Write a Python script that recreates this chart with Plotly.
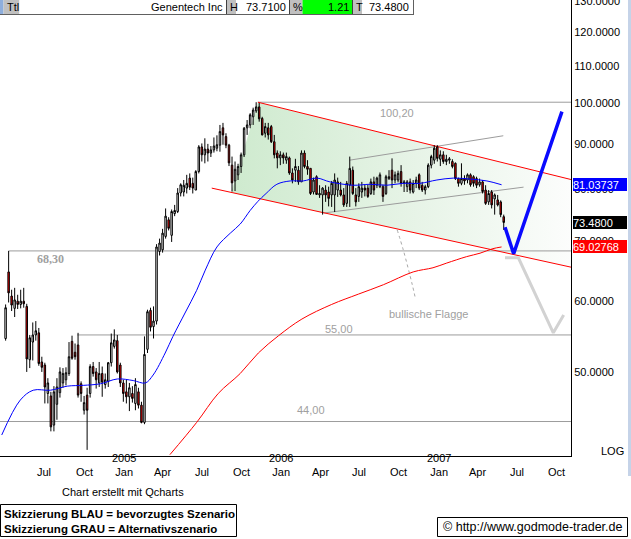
import math
import pandas as pd
import plotly.graph_objects as go

# ---------------- data ----------------
first_week = "2004-04-02"
opens = [54.5, 64.7, 60.8, 58.9, 60.0, 59.5, 60.0, 59.2, 51.6, 54.0,
         55.0, 55.3, 51.3, 50.9, 47.3, 47.0, 43.6, 46.0, 47.4, 48.6,
         49.0, 49.8, 54.1, 52.6, 53.6, 48.5, 45.3, 47.1, 47.3, 50.7,
         50.0, 48.6, 49.8, 48.4, 48.8, 51.2, 53.4, 54.2, 50.9, 48.6,
         47.5, 46.9, 47.3, 46.1, 47.5, 45.9, 43.9, 53.0, 58.6, 56.2,
         57.0, 68.2, 68.5, 70.9, 74.0, 71.1, 75.2, 75.6, 79.3, 79.5,
         80.3, 82.4, 81.3, 79.9, 83.8, 89.3, 87.5, 88.8, 87.9, 88.6,
         89.0, 89.7, 93.8, 91.7, 89.7, 85.2, 81.8, 83.1, 84.9, 87.5,
         93.8, 94.5, 96.5, 98.0, 99.0, 96.1, 92.5, 93.8, 94.1, 90.5,
         87.9, 86.8, 87.5, 86.3, 86.8, 83.5, 84.1, 84.1, 81.6, 87.9,
         84.9, 84.5, 79.5, 82.7, 78.9, 78.9, 79.9, 79.5, 78.9, 78.9,
         79.9, 79.9, 78.9, 77.2, 80.9, 84.1, 78.9, 78.6, 79.5, 80.3,
         80.3, 79.2, 81.6, 80.9, 80.6, 80.6, 79.2, 82.3, 84.1, 82.0,
         82.0, 83.8, 81.3, 80.6, 81.6, 79.5, 81.3, 83.1, 80.9, 79.9,
         80.6, 85.2, 86.3, 89.3, 86.5, 87.5, 86.0, 86.3, 86.0, 85.6,
         82.3, 81.3, 82.3, 82.0, 83.1, 82.7, 82.3, 81.0, 81.6, 79.9,
         77.5, 79.5, 78.1, 77.9, 77.5, 74.6]
highs = [59.5, 68.3, 61.8, 62.1, 61.0, 61.8, 62.1, 59.6, 55.0, 56.8,
         57.0, 56.0, 52.0, 51.2, 49.2, 47.5, 48.2, 49.2, 50.6, 50.5,
         50.6, 54.0, 54.9, 53.8, 55.3, 48.8, 47.0, 48.0, 51.0, 51.3,
         50.5, 51.3, 50.7, 49.8, 51.3, 55.2, 55.8, 55.0, 51.2, 49.0,
         49.0, 48.6, 48.2, 49.2, 48.0, 46.3, 54.8, 58.7, 59.0, 59.2,
         69.5, 70.5, 72.3, 76.2, 74.5, 76.0, 76.9, 80.3, 81.3, 82.0,
         83.1, 83.4, 82.5, 84.1, 89.7, 90.1, 91.3, 90.0, 89.5, 91.5,
         92.0, 94.5, 95.0, 92.5, 90.0, 87.1, 86.0, 85.5, 88.0, 94.0,
         95.7, 97.4, 98.8, 100.2, 100.0, 96.5, 95.0, 95.0, 94.5, 92.1,
         88.5, 88.3, 88.0, 88.0, 87.1, 84.5, 86.6, 85.0, 88.5, 88.5,
         86.3, 84.5, 82.5, 83.0, 80.9, 80.5, 80.9, 80.6, 81.8, 83.4,
         82.5, 81.6, 80.3, 81.8, 87.1, 84.9, 80.3, 81.3, 81.6, 81.0,
         81.0, 82.3, 82.7, 82.7, 83.6, 81.0, 83.1, 84.1, 86.7, 83.8,
         84.0, 85.2, 82.0, 82.0, 82.3, 82.0, 82.7, 83.4, 81.6, 81.0,
         85.6, 87.5, 89.7, 89.7, 88.5, 88.3, 87.5, 87.0, 86.5, 85.8,
         82.5, 85.6, 83.0, 83.4, 83.4, 83.0, 82.7, 82.3, 82.0, 80.9,
         79.9, 79.9, 79.2, 78.9, 77.8, 75.0]
lows = [54.2, 59.8, 58.5, 57.6, 58.8, 58.9, 59.0, 50.0, 50.5, 51.5,
        54.2, 50.8, 50.0, 46.1, 46.1, 42.9, 42.9, 44.2, 46.8, 48.0,
        48.3, 49.5, 51.6, 51.6, 46.8, 46.3, 44.8, 40.9, 46.8, 49.4,
        47.9, 48.1, 46.9, 47.9, 48.1, 50.7, 53.1, 49.8, 48.1, 46.3,
        46.1, 45.2, 46.2, 45.3, 45.5, 43.8, 43.7, 52.5, 55.5, 54.5,
        56.5, 67.5, 68.0, 70.5, 72.0, 69.9, 74.7, 75.3, 78.6, 78.6,
        79.2, 79.9, 79.2, 79.9, 83.4, 86.0, 85.6, 86.0, 87.0, 88.0,
        88.3, 88.2, 89.8, 89.0, 85.0, 79.6, 79.7, 82.0, 83.5, 87.0,
        92.1, 93.7, 94.5, 97.5, 95.3, 92.0, 91.5, 91.0, 90.2, 86.7,
        84.5, 85.2, 85.5, 85.5, 83.1, 81.3, 81.6, 81.0, 81.6, 84.5,
        83.1, 78.9, 79.0, 78.9, 78.3, 75.0, 77.5, 76.6, 76.5, 75.5,
        78.5, 78.6, 76.5, 76.5, 76.5, 78.9, 76.6, 77.5, 78.3, 78.6,
        78.3, 78.9, 78.9, 80.3, 80.3, 77.5, 78.9, 82.0, 80.3, 81.3,
        81.5, 80.6, 79.5, 79.5, 79.2, 79.2, 80.3, 79.9, 79.5, 79.0,
        80.3, 84.5, 85.5, 86.0, 85.0, 85.5, 85.2, 85.5, 84.5, 82.0,
        80.6, 80.9, 81.0, 81.3, 80.6, 80.6, 80.3, 80.6, 79.2, 76.9,
        76.9, 76.2, 75.0, 76.6, 74.5, 72.1]
closes = [59.0, 61.3, 59.4, 60.2, 59.5, 60.0, 59.6, 51.7, 54.6, 55.0,
          55.6, 51.1, 50.6, 48.1, 48.6, 43.4, 47.5, 48.1, 50.0, 49.8,
          49.9, 52.0, 51.8, 52.0, 47.1, 47.3, 46.2, 45.3, 50.7, 49.8,
          49.0, 49.8, 48.7, 49.0, 51.2, 53.9, 54.3, 50.0, 48.6, 47.3,
          46.9, 48.0, 46.7, 48.4, 45.9, 43.9, 52.3, 58.4, 56.1, 57.0,
          69.0, 69.7, 71.5, 74.7, 72.4, 75.6, 75.8, 79.3, 81.0, 80.9,
          81.3, 80.5, 80.3, 83.8, 89.3, 87.5, 88.8, 87.9, 88.6, 89.5,
          89.8, 92.9, 92.1, 89.7, 85.7, 81.4, 84.3, 84.9, 87.5, 93.7,
          94.5, 97.0, 98.2, 99.0, 96.0, 92.1, 94.1, 92.1, 90.5, 87.5,
          86.8, 87.5, 86.8, 87.1, 83.5, 82.0, 84.9, 81.6, 87.9, 84.9,
          84.3, 79.2, 82.0, 79.0, 79.2, 80.3, 78.9, 78.2, 81.3, 82.0,
          81.6, 78.9, 76.9, 81.3, 84.5, 79.2, 77.5, 80.6, 80.3, 79.9,
          78.6, 81.6, 79.9, 82.4, 83.1, 78.6, 82.7, 82.7, 82.0, 83.1,
          83.4, 81.3, 81.6, 81.6, 79.9, 81.3, 82.0, 80.3, 79.9, 80.6,
          85.2, 87.1, 89.0, 86.7, 87.5, 86.0, 86.5, 86.6, 84.9, 82.3,
          81.3, 82.3, 81.8, 83.1, 81.0, 81.3, 80.9, 81.6, 79.6, 77.2,
          79.2, 76.9, 78.9, 76.9, 75.0, 73.5]

ma_blue_dates = ["2004-03-24", "2004-05-06", "2004-06-05", "2004-07-15", "2004-08-23",
                 "2004-09-29", "2004-11-08", "2004-12-17", "2005-01-23", "2005-02-20",
                 "2005-03-10", "2005-04-07", "2005-04-25", "2005-05-23", "2005-06-19",
                 "2005-07-09", "2005-08-05", "2005-09-05", "2005-09-28", "2005-10-21",
                 "2005-11-08", "2005-11-27", "2005-12-22", "2006-01-22", "2006-02-21",
                 "2006-03-25", "2006-04-24", "2006-06-17", "2006-07-26", "2006-09-03",
                 "2006-10-11", "2006-11-19", "2006-12-28", "2007-02-04", "2007-03-15",
                 "2007-04-23", "2007-05-27"]
ma_blue_values = [42.5, 46.5, 47.7, 47.7, 48.2, 48.3, 48.5, 49.1, 48.9, 48.6,
                  49.6, 52.5, 54.8, 58.2, 61.7, 65.0, 69.0, 71.5, 73.2, 75.8,
                  77.6, 79.2, 81.1, 81.8, 81.8, 82.4, 81.6, 80.9, 81.1, 80.9,
                  81.3, 81.3, 82.0, 82.4, 82.2, 81.8, 81.0]

ma_red_dates = ["2005-04-18", "2005-06-19", "2005-08-08", "2005-09-28", "2005-11-09",
                "2005-12-26", "2006-02-18", "2006-04-28", "2006-06-29", "2006-08-26",
                "2006-11-03", "2006-12-19", "2007-01-20", "2007-03-07", "2007-04-07",
                "2007-05-07", "2007-05-27"]
ma_red_values = [40.4, 43.9, 47.3, 49.8, 52.5, 54.9, 57.3, 59.5, 61.1, 62.6,
                 64.7, 65.4, 66.2, 67.3, 67.9, 68.7, 69.0]

x_start, x_end = "2004-03-20", "2007-11-04"

channel_upper_dates = ["2005-11-08", "2007-11-04"]
channel_upper_values = [100.2, 82.1]
channel_lower_dates = ["2005-07-24", "2007-11-04"]
channel_lower_values = [80.3, 65.5]
channel_area_dates = ["2005-11-08", "2007-11-04", "2007-11-04", "2005-09-07", "2005-11-08"]
channel_area_values = [100.2, 82.1, 65.5, 79.4, 100.2]

flag_upper_dates = ["2006-06-09", "2007-05-31"]
flag_upper_values = [86.3, 91.9]
flag_lower_dates = ["2006-04-09", "2007-07-17"]
flag_lower_values = [75.3, 80.5]
flag_pointer_dates = ["2006-09-27", "2006-10-11", "2006-11-01", "2006-11-08"]
flag_pointer_values = [72.1, 68.5, 62.6, 60.5]

blue_path_dates = ["2007-06-04", "2007-06-24", "2007-10-14"]
blue_path_values = [72.6, 67.8, 97.8]
gray_path_dates = ["2007-06-04", "2007-07-05", "2007-09-24", "2007-10-18"]
gray_path_values = [67.1, 67.1, 55.3, 57.9]

hline_values = [100.2, 68.3, 55.0, 44.0]
hline_starts = ["2005-11-08", "2004-04-09", "2004-09-15", "2004-03-20"]
hline_labels = ["100,20", "68,30", "55,00", "44,00"]
hline_label_dates = ["2006-09-27", "2004-07-15", "2006-05-14", "2006-03-11"]
flag_label = "bullische Flagge"
flag_label_date, flag_label_value = "2006-12-10", 58.05

tick_dates = ["2004-07-01", "2004-10-01", "2005-01-01", "2005-04-01", "2005-07-01",
              "2005-10-01", "2006-01-01", "2006-04-01", "2006-07-01", "2006-10-01",
              "2007-01-01", "2007-04-01", "2007-07-01", "2007-10-01"]
tick_months = ["Jul", "Oct", "Jan", "Apr", "Jul", "Oct", "Jan", "Apr", "Jul", "Oct",
               "Jan", "Apr", "Jul", "Oct"]
tick_years = ["", "", "2005", "", "", "", "2006", "", "", "", "2007", "", "", ""]
y_ticks = [50, 60, 70, 80, 90, 100, 110, 120, 130]
y_min, y_max = 40.26, 130.4

ma_blue_last, last_price, ma_red_last = 81.03737, 73.48, 69.02768
header_name = "Genentech Inc"
header_high, header_pct, header_last = "73.7100", "1.21", "73.4800"

# ---------------- figure ----------------
dates = pd.date_range(first_week, periods=len(closes), freq="7D")

W, H = 631, 539
PW, PH = 571, 456
def px(x): return x / PW
def py(y): return 1 - y / PH
def ly(v): return math.log10(v)

FONT = "Arial, 'Liberation Sans', sans-serif"
GRAY = "#9c9c9c"
TOP = dict(xaxis="x2", yaxis="y2")

fig = go.Figure()

# base layer: gradient area and guide lines
fig.add_trace(go.Scatter(
    x=channel_area_dates, y=channel_area_values, mode="lines", fill="toself",
    line=dict(width=0, color="rgba(0,0,0,0)"),
    fillgradient=dict(type="horizontal",
                      colorscale=[[0, "rgb(206,234,206)"], [0.5, "rgb(229,243,229)"],
                                  [1, "rgb(252,253,252)"]]),
    hoverinfo="skip"))

for v, s in zip(hline_values, hline_starts):
    fig.add_trace(go.Scatter(x=[s, x_end], y=[v, v], mode="lines",
                             line=dict(color=GRAY, width=1), hoverinfo="skip"))

fig.add_trace(go.Scatter(x=flag_upper_dates, y=flag_upper_values, mode="lines",
                         line=dict(color=GRAY, width=1), hoverinfo="skip"))
fig.add_trace(go.Scatter(x=flag_lower_dates, y=flag_lower_values, mode="lines",
                         line=dict(color=GRAY, width=1), hoverinfo="skip"))
fig.add_trace(go.Scatter(x=flag_pointer_dates, y=flag_pointer_values, mode="lines",
                         line=dict(color="#a8a8a8", width=1, dash="3px,3px", shape="spline"),
                         hoverinfo="skip"))
fig.add_trace(go.Scatter(x=channel_upper_dates, y=channel_upper_values, mode="lines",
                         line=dict(color="#ff0000", width=1), hoverinfo="skip"))
fig.add_trace(go.Scatter(x=channel_lower_dates, y=channel_lower_values, mode="lines",
                         line=dict(color="#ff0000", width=1), hoverinfo="skip"))

# top layer: candles, averages, sketches
fig.add_trace(go.Candlestick(
    x=dates, open=opens, high=highs, low=lows, close=closes,
    increasing=dict(line=dict(color="black", width=1), fillcolor="white"),
    decreasing=dict(line=dict(color="black", width=1), fillcolor="#ff0000"),
    whiskerwidth=0, hoverinfo="skip", **TOP))
fig.add_trace(go.Scatter(x=ma_red_dates, y=ma_red_values, mode="lines",
                         line=dict(color="#ff0000", width=1, shape="spline"),
                         hoverinfo="skip", **TOP))
fig.add_trace(go.Scatter(x=ma_blue_dates, y=ma_blue_values, mode="lines",
                         line=dict(color="#0000ff", width=1, shape="spline"),
                         hoverinfo="skip", **TOP))
fig.add_trace(go.Scatter(x=gray_path_dates, y=gray_path_values, mode="lines",
                         line=dict(color="#d2d2d2", width=3), hoverinfo="skip", **TOP))
fig.add_trace(go.Scatter(x=blue_path_dates, y=blue_path_values, mode="lines",
                         line=dict(color="#0a0aff", width=3.5), hoverinfo="skip", **TOP))

ann = []
shifts = [-11, -8, 6, 12]
for lab, d, v, sh in zip(hline_labels, hline_label_dates, hline_values, shifts):
    if lab == "68,30":
        f = dict(family="'Times New Roman', 'Liberation Serif', serif", size=12, color="#a0a0a0")
        t = "<b>" + lab + "</b>"
    else:
        f = dict(family=FONT, size=11, color="#a0a0a0")
        t = lab
    ann.append(dict(x=d, y=ly(v), xref="x", yref="y", text=t, showarrow=False,
                    font=f, yshift=sh))
ann.append(dict(x=flag_label_date, y=ly(flag_label_value), xref="x", yref="y",
                text=flag_label, showarrow=False, font=dict(family=FONT, size=11, color="#a0a0a0")))

# x tick labels (year above month)
for d, m, yr in zip(tick_dates, tick_months, tick_years):
    if yr:
        ann.append(dict(x=d, y=py(479.5), xref="x", yref="paper", text=yr + "<br>" + m,
                        showarrow=False, yanchor="bottom", borderpad=0,
                        font=dict(family=FONT, size=11, color="black")))
    else:
        ann.append(dict(x=d, y=py(472.3), xref="x", yref="paper", text=m, showarrow=False,
                        yanchor="middle", borderpad=0,
                        font=dict(family=FONT, size=11, color="black")))

# value boxes on the right axis
for val, txt, bg in [(ma_blue_last, "81.03737", "#0000ff"),
                     (last_price, "73.4800", "#000000"),
                     (ma_red_last, "69.02768", "#ff0000")]:
    ann.append(dict(x=px(573), y=ly(val), xref="paper", yref="y", text=txt, showarrow=False,
                    xanchor="left", yanchor="middle", align="left", width=54, height=13,
                    bgcolor=bg, borderpad=0, borderwidth=0,
                    font=dict(family=FONT, size=11, color="white")))

ann.append(dict(x=px(626), y=py(451), xref="paper", yref="paper", text="LOG", showarrow=False,
                xanchor="right", yanchor="middle", font=dict(family=FONT, size=11, color="black")))

# header bar
shapes = []
cells = [(0, 3.5, "#8eaedc"), (3.5, 19.5, "#c0c0c0"), (19.5, 226.5, "white"),
         (226.5, 236, "#c0c0c0"), (236, 289.5, "white"), (289.5, 302.5, "#c0c0c0"),
         (302.5, 352.5, "#00ff00"), (352.5, 362, "#c0c0c0"), (362, 413, "white")]
for x0, x1, c in cells:
    shapes.append(dict(type="rect", xref="paper", yref="paper", x0=px(x0), x1=px(x1),
                       y0=py(14), y1=py(0), fillcolor=c, line=dict(width=0), layer="above"))
for xs in [226.5, 289.5, 352.5]:
    shapes.append(dict(type="line", xref="paper", yref="paper", x0=px(xs), x1=px(xs),
                       y0=py(14), y1=py(0), line=dict(color="#404040", width=1), layer="above"))
shapes.append(dict(type="line", xref="paper", yref="paper", x0=px(0), x1=px(414),
                   y0=py(14.5), y1=py(14.5), line=dict(color="#606060", width=1), layer="above"))
shapes.append(dict(type="line", xref="paper", yref="paper", x0=px(413.5), x1=px(413.5),
                   y0=py(14.5), y1=py(0), line=dict(color="#606060", width=1), layer="above"))

hdr_font = dict(family=FONT, size=11, color="black")
for txt, x, anchor in [("Ttl", 5, "left"), (header_name, 225, "right"), ("H", 228, "left"),
                       (header_high, 288, "right"), ("%", 291, "left"),
                       (header_pct, 351, "right"), ("T", 354, "left"),
                       (header_last, 411, "right")]:
    ann.append(dict(x=px(x), y=py(7), xref="paper", yref="paper", text=txt, showarrow=False,
                    xanchor=anchor, yanchor="middle", font=hdr_font))

# footer
ann.append(dict(x=px(123), y=py(492), xref="paper", yref="paper",
                text="Chart erstellt mit Qcharts", showarrow=False, xanchor="center",
                yanchor="middle", font=dict(family=FONT, size=11, color="black")))
shapes.append(dict(type="rect", xref="paper", yref="paper", x0=px(0.5), x1=px(236.5),
                   y0=py(536.5), y1=py(504.5), fillcolor="white",
                   line=dict(color="black", width=1)))
ann.append(dict(x=px(3), y=py(514), xref="paper", yref="paper",
                text="<b>Skizzierung BLAU = bevorzugtes Szenario</b>", showarrow=False,
                xanchor="left", yanchor="middle", borderpad=0,
                font=dict(family=FONT, size=11.5, color="black")))
ann.append(dict(x=px(3), y=py(528.5), xref="paper", yref="paper",
                text="<b>Skizzierung GRAU = Alternativszenario</b>", showarrow=False,
                xanchor="left", yanchor="middle", borderpad=0,
                font=dict(family=FONT, size=11.5, color="black")))
shapes.append(dict(type="rect", xref="paper", yref="paper", x0=px(437.5), x1=px(627.5),
                   y0=py(536.5), y1=py(517.5), fillcolor="white",
                   line=dict(color="black", width=1)))
ann.append(dict(x=px(532.5), y=py(527), xref="paper", yref="paper",
                text="© http://www.godmode-trader.de", showarrow=False, borderpad=0,
                xanchor="center", yanchor="middle", font=dict(family=FONT, size=12.5, color="black")))
shapes.append(dict(type="rect", xref="paper", yref="paper", x0=px(628), x1=px(631),
                   y0=py(476), y1=py(0), fillcolor="#c5d3e8", line=dict(width=0)))

xr = [x_start, x_end]
yr_ = [ly(y_min), ly(y_max)]
fig.update_layout(
    width=W, height=H, autosize=False,
    margin=dict(l=0, r=W - PW, t=0, b=H - PH, pad=0),
    paper_bgcolor="white", plot_bgcolor="white",
    showlegend=False,
    font=dict(family=FONT, size=11, color="black"),
    xaxis=dict(type="date", range=xr, showgrid=False, zeroline=False,
               showticklabels=False, ticks="", showline=True, linecolor="black",
               linewidth=1, rangeslider=dict(visible=False), fixedrange=True),
    yaxis=dict(type="log", side="right", range=yr_, showgrid=False,
               zeroline=False, tickvals=y_ticks, ticktext=["%.4f" % v for v in y_ticks],
               ticks="", showline=True, linecolor="black", linewidth=1, automargin=False,
               ticklabeloverflow="allow",
               tickfont=dict(family=FONT, size=11, color="black"), fixedrange=True),
    xaxis2=dict(type="date", range=xr, overlaying="x", visible=False,
                rangeslider=dict(visible=False), fixedrange=True),
    yaxis2=dict(type="log", range=yr_, overlaying="y", side="right", visible=False,
                fixedrange=True),
    annotations=ann, shapes=shapes,
)

fig.write_html("out.html", config=dict(displayModeBar=False),
               post_script="document.body.style.margin='0';document.body.style.padding='0';"
                           "document.body.style.overflow='hidden';")
